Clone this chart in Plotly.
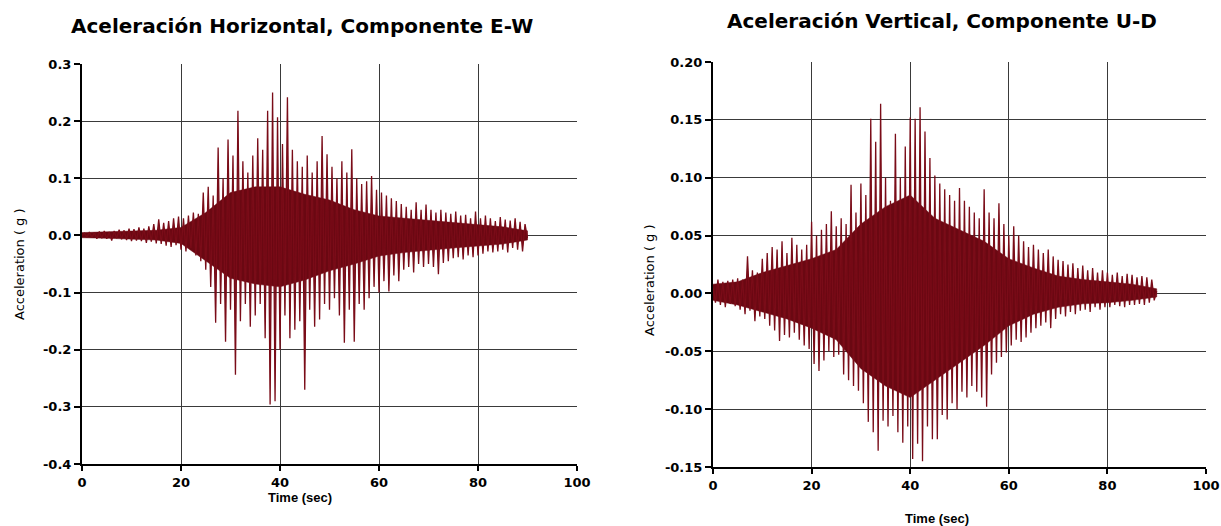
import plotly.graph_objects as go

time_step = 0.5
ew_milli_g = [
    0, 4, -3, 6, -4, 5, -6, 7, -5, 8,
    -6, 6, -9, 8, -5, 10, -7, 9, -8, 12,
    -10, 11, -9, 14, -10, 12, -13, 16, -11, 20,
    -14, 28, -15, 22, -18, 25, -20, 30, -17, 33,
    -25, 30, -28, 35, -22, 40, -35, 38, -45, 75,
    -60, 85, -90, 70, -153, 154, -120, 100, -186, 168,
    -130, 140, -244, 218, -150, 130, -120, 110, -160, 140,
    -140, 170, -120, 150, -180, 218, -296, 250, -290, 207,
    -200, 160, -140, 242, -180, 150, -165, 130, -150, 120,
    -270, 140, -130, 110, -160, 130, -147, 174, -120, 142,
    -130, 120, -110, 100, -140, 130, -188, 110, -130, 151,
    -186, 100, -120, 90, -130, 95, -110, 104, -90, 80,
    -100, 75, -80, 70, -98, 65, -70, 60, -80, 55,
    -60, 50, -55, 45, -65, 58, -50, 45, -55, 54,
    -50, 45, -55, 40, -68, 45, -48, 40, -45, 38,
    -40, 42, -38, 35, -42, 36, -35, 30, -38, 42,
    -35, 30, -32, 35, -28, 30, -30, 25, -28, 32,
    -25, 28, -30, 26, -22, 30, -25, 24, -28, 20,
    -5,
]
ud_milli_g = [
    5, -8, 12, -10, 10, -12, 11, -9, 12, -11,
    13, -14, 12, -18, 32, -15, 20, -24, 18, -20,
    30, -22, 35, -28, 40, -32, 38, -41, 45, -36,
    35, -38, 48, -34, 42, -40, 38, -45, 42, -48,
    62, -61, 50, -67, 55, -58, 60, -50, 71, -55,
    58, -53, 65, -70, 60, -75, 94, -80, 70, -84,
    95, -95, 85, -111, 151, -120, 131, -136, 164, -110,
    100, -115, 80, -106, 138, -120, 100, -129, 127, -115,
    152, -143, 151, -130, 161, -145, 140, -115, 117, -126,
    102, -126, 95, -105, 90, -109, 85, -95, 80, -100,
    91, -85, 80, -90, 75, -80, 70, -85, 65, -90,
    90, -98, 70, -70, 65, -60, 78, -55, 60, -51,
    50, -45, 58, -40, 50, -42, 45, -38, 40, -34,
    42, -30, 38, -28, 35, -25, 38, -30, 32, -22,
    29, -18, 28, -20, 25, -16, 26, -18, 22, -15,
    24, -14, 20, -16, 22, -12, 18, -14, 20, -12,
    18, -12, 16, -10, 18, -11, 15, -12, 17, -10,
    16, -10, 14, -9, 15, -10, 14, -8, 12, -6,
    2,
]
# dense dark core of each record (upper / lower edge, thousandths of g, every 5 s)
core_time = [0, 5, 10, 15, 20, 25, 30, 35, 40, 45, 50, 55, 60, 65, 70, 75, 80, 85, 90]
ew_core_up = [5, 6, 7, 9, 14, 40, 75, 85, 85, 72, 62, 45, 34, 30, 26, 22, 18, 15, 8]
ew_core_lo = [-4, -5, -6, -8, -14, -45, -75, -85, -90, -78, -62, -50, -36, -30, -26, -22, -18, -15, -8]
ud_core_up = [8, 10, 18, 24, 30, 38, 60, 75, 85, 65, 55, 45, 30, 22, 15, 12, 10, 8, 4]
ud_core_lo = [-6, -10, -16, -22, -30, -40, -65, -80, -90, -75, -60, -45, -28, -18, -12, -9, -8, -6, -3]

ew_ticks = [-0.4, -0.3, -0.2, -0.1, 0.0, 0.1, 0.2, 0.3]
ud_ticks = [-0.15, -0.10, -0.05, 0.00, 0.05, 0.10, 0.15, 0.20]
time_ticks = [0, 20, 40, 60, 80, 100]

ew_t = [i * time_step for i in range(len(ew_milli_g))]
ew_a = [v / 1000 for v in ew_milli_g]
ud_t = [i * time_step for i in range(len(ud_milli_g))]
ud_a = [v / 1000 for v in ud_milli_g]

W, H = 1221, 526
LINE = "#7a0c18"
CORE = "#6a0812"
FILL = "rgba(110,8,20,0.92)"
FONT = "DejaVu Sans, Liberation Sans, sans-serif"
FONT2 = "Liberation Sans, Arial, sans-serif"

fig = go.Figure()

def add_core(t, up, lo, xa, ya):
    xs = list(t) + list(reversed(t))
    ys = [v / 1000 for v in up] + [v / 1000 for v in reversed(lo)]
    fig.add_trace(go.Scatter(x=xs, y=ys, mode="lines", fill="toself", fillcolor=CORE,
                             line=dict(color=CORE, width=0.5), xaxis=xa, yaxis=ya,
                             showlegend=False, hoverinfo="skip"))

add_core(core_time, ew_core_up, ew_core_lo, "x", "y")
add_core(core_time, ud_core_up, ud_core_lo, "x2", "y2")

fig.add_trace(go.Scatter(x=ew_t, y=ew_a, mode="lines", line=dict(color=LINE, width=1.3),
                         fill="tozeroy", fillcolor=FILL,
                         xaxis="x", yaxis="y", showlegend=False, hoverinfo="skip"))
fig.add_trace(go.Scatter(x=ud_t, y=ud_a, mode="lines", line=dict(color=LINE, width=1.3),
                         fill="tozeroy", fillcolor=FILL,
                         xaxis="x2", yaxis="y2", showlegend=False, hoverinfo="skip"))

def px_x(p):
    return p / W

def px_y(p):
    return 1 - p / H

TICKFONT = dict(family=FONT, size=13, color="black", weight="bold")
common_x = dict(range=[0, 100], tickvals=time_ticks, ticktext=[str(t) for t in time_ticks],
                showgrid=True, gridcolor="#3a3a3a", gridwidth=1, zeroline=False,
                showline=True, linecolor="black", linewidth=2, ticks="outside", ticklen=5,
                tickwidth=2, tickcolor="black", tickfont=TICKFONT, automargin=False,
                mirror=False)
common_y = dict(showgrid=True, gridcolor="#3a3a3a", gridwidth=1, zeroline=False,
                showline=True, linecolor="black", linewidth=2, ticks="outside", ticklen=6,
                tickwidth=2, tickcolor="black", tickfont=TICKFONT, automargin=False)

fig.update_layout(
    width=W, height=H, autosize=False,
    margin=dict(l=0, r=0, t=0, b=0, pad=0),
    paper_bgcolor="white", plot_bgcolor="white",
    xaxis=dict(domain=[px_x(82), px_x(577)], anchor="y", **common_x),
    yaxis=dict(domain=[px_y(464), px_y(64)], anchor="x", range=[-0.4, 0.3],
               tickvals=ew_ticks, ticktext=[f"{v:.1f}" for v in ew_ticks], **common_y),
    xaxis2=dict(domain=[px_x(713), px_x(1206)], anchor="y2", **common_x),
    yaxis2=dict(domain=[px_y(467), px_y(62)], anchor="x2", range=[-0.15, 0.20],
                tickvals=ud_ticks, ticktext=[f"{v:.2f}" for v in ud_ticks], **common_y),
)

ann = [
    dict(text="Aceleración Horizontal, Componente E-W", x=px_x(302), y=px_y(26), size=20,
         bold=True, fam=FONT),
    dict(text="Aceleración Vertical, Componente U-D", x=px_x(942), y=px_y(21), size=20,
         bold=True, fam=FONT),
    dict(text="Time (sec)", x=px_x(300), y=px_y(497), size=13, bold=True, fam=FONT2),
    dict(text="Time (sec)", x=px_x(937), y=px_y(518), size=13, bold=True, fam=FONT2),
]
for a in ann:
    fig.add_annotation(text=a["text"], x=a["x"], y=a["y"], xref="paper", yref="paper",
                       xanchor="center", yanchor="middle", showarrow=False,
                       font=dict(family=a["fam"], size=a["size"], color="black",
                                 weight="bold" if a["bold"] else "normal"))
for xp, yp in [(19, 264), (649, 280)]:
    fig.add_annotation(text="Acceleration ( g )", x=px_x(xp), y=px_y(yp), xref="paper", yref="paper",
                       xanchor="center", yanchor="middle", showarrow=False, textangle=-90,
                       font=dict(family=FONT, size=13, color="black"))

fig.write_html("out.html")
